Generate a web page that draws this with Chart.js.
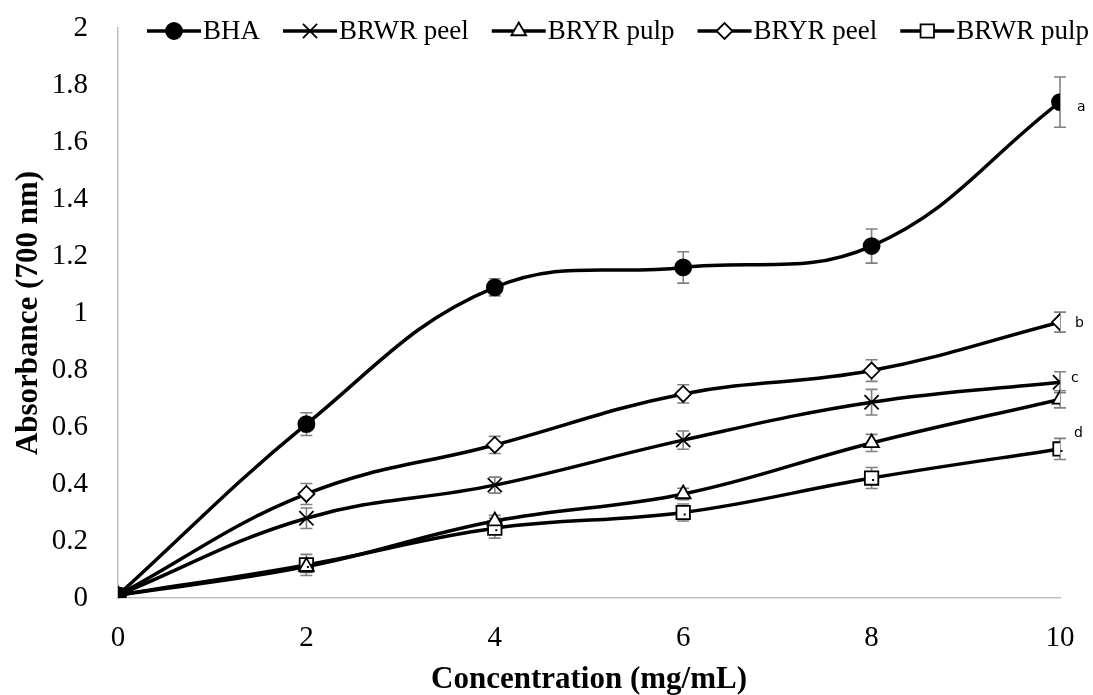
<!DOCTYPE html>
<html>
<head>
<meta charset="utf-8">
<script src="https://cdn.jsdelivr.net/npm/chart.js@4/dist/chart.umd.min.js"></script>
<style>
html,body{margin:0;padding:0;background:#fff}
#wrap{width:1093px;height:695px;position:relative}
</style>
</head>
<body>
<div id="wrap"><canvas id="c"></canvas></div>
<script>
// concentration (mg/mL)
var conc = [0, 2, 4, 6, 8, 10];
var seriesNames = ['BHA', 'BRWR peel', 'BRYR pulp', 'BRYR peel', 'BRWR pulp'];

var bha         = [0.01, 0.61, 1.09, 1.16, 1.235, 1.74];
var bhaErr      = [0, 0.04, 0.03, 0.055, 0.06, 0.088];
var brwrPeel    = [0.01, 0.28, 0.396, 0.554, 0.687, 0.757];
var brwrPeelErr = [0, 0.036, 0.028, 0.032, 0.045, 0.037];
var bryrPulp    = [0.01, 0.11, 0.27, 0.365, 0.544, 0.697];
var bryrPulpErr = [0, 0.02, 0.02, 0.02, 0.03, 0.03];
var bryrPeel    = [0.01, 0.365, 0.537, 0.716, 0.798, 0.968];
var bryrPeelErr = [0, 0.037, 0.03, 0.032, 0.038, 0.035];
var brwrPulp    = [0.01, 0.116, 0.245, 0.30, 0.421, 0.523];
var brwrPulpErr = [0, 0.037, 0.035, 0.03, 0.037, 0.037];

// significance letters at the last point
var sigLetters = ['a', 'c', '', 'b', 'd'];

var values = [bha, brwrPeel, bryrPulp, bryrPeel, brwrPulp];
var errors = [bhaErr, brwrPeelErr, bryrPulpErr, bryrPeelErr, brwrPulpErr];

var markers = [
  {style: 'circle',   radius: 8,   fill: '#000'},
  {style: 'crossRot', radius: 10,  fill: '#fff'},
  {style: 'triangle', radius: 8.5, fill: '#fff'},
  {style: 'rectRot',  radius: 8,   fill: '#fff'},
  {style: 'rect',     radius: 9.5, fill: '#fff'}
];
var letterOffset = [[17, 5], [11, -4], null, [15, 1], [14, -16]];

var serif = '"Liberation Serif", "Times New Roman", serif';

var datasets = seriesNames.map(function(name, i){
  return {
    label: name,
    data: conc.map(function(x, j){ return {x: x, y: values[i][j]}; }),
    borderColor: '#000',
    borderWidth: 3.5,
    tension: 0.4,
    pointStyle: markers[i].style,
    pointRadius: markers[i].radius,
    pointBackgroundColor: markers[i].fill,
    pointBorderColor: '#000',
    pointBorderWidth: 1.8
  };
});

var errorBars = {
  id: 'errorBars',
  beforeDatasetsDraw: function(chart){
    var ctx = chart.ctx, xs = chart.scales.x, ys = chart.scales.y;
    ctx.save();
    ctx.strokeStyle = '#808080';
    ctx.lineWidth = 1.6;
    errors.forEach(function(err, i){
      conc.forEach(function(x, j){
        if (!err[j]) return;
        var px = xs.getPixelForValue(x);
        var top = ys.getPixelForValue(values[i][j] + err[j]);
        var bot = ys.getPixelForValue(values[i][j] - err[j]);
        ctx.beginPath();
        ctx.moveTo(px, top); ctx.lineTo(px, bot);
        ctx.moveTo(px - 6, top); ctx.lineTo(px + 6, top);
        ctx.moveTo(px - 6, bot); ctx.lineTo(px + 6, bot);
        ctx.stroke();
      });
    });
    ctx.restore();
  },
  afterDatasetsDraw: function(chart){
    var ctx = chart.ctx, xs = chart.scales.x, ys = chart.scales.y;
    ctx.save();
    // tiny dot inside the square markers
    ctx.fillStyle = '#000';
    conc.forEach(function(x, j){
      ctx.fillRect(xs.getPixelForValue(x) + 0.5, ys.getPixelForValue(brwrPulp[j]) + 1, 2, 2);
    });
    // letters
    ctx.font = '14px "DejaVu Sans", sans-serif';
    ctx.textAlign = 'left';
    ctx.textBaseline = 'middle';
    var last = conc.length - 1;
    sigLetters.forEach(function(l, i){
      if (!l) return;
      var px = xs.getPixelForValue(conc[last]) + letterOffset[i][0];
      var py = ys.getPixelForValue(values[i][last]) + letterOffset[i][1];
      ctx.fillText(l, px, py);
    });
    ctx.restore();
  }
};

// legend drawn by hand so each key shows line + marker like the original
var lineLegend = {
  id: 'lineLegend',
  afterDraw: function(chart){
    var ctx = chart.ctx;
    var x = 147, y = 31, lineLen = 54;
    ctx.save();
    ctx.font = '27px ' + serif;
    ctx.textBaseline = 'middle';
    ctx.textAlign = 'left';
    chart.data.datasets.forEach(function(ds){
      ctx.strokeStyle = '#000';
      ctx.lineWidth = 3.5;
      ctx.beginPath();
      ctx.moveTo(x, y); ctx.lineTo(x + lineLen, y);
      ctx.stroke();
      ctx.fillStyle = ds.pointBackgroundColor;
      ctx.strokeStyle = '#000';
      ctx.lineWidth = ds.pointBorderWidth;
      Chart.helpers.drawPoint(ctx, {
        pointStyle: ds.pointStyle, radius: ds.pointRadius, rotation: 0,
        borderWidth: ds.pointBorderWidth
      }, x + lineLen / 2, y);
      ctx.fillStyle = '#000';
      ctx.fillText(ds.label, x + lineLen + 2, y + 1);
      x += lineLen + 2 + ctx.measureText(ds.label).width + 23;
    });
    ctx.restore();
  }
};

new Chart(document.getElementById('c'), {
  type: 'line',
  data: {datasets: datasets},
  options: {
    responsive: true,
    maintainAspectRatio: false,
    animation: false,
    layout: {padding: {top: 28, right: 33, left: 0, bottom: 0}},
    plugins: {legend: {display: false}, tooltip: {enabled: false}},
    scales: {
      x: {
        type: 'linear', min: 0, max: 10,
        grid: {display: false, drawTicks: false},
        border: {color: '#bfbfbf', width: 1.5},
        ticks: {stepSize: 2, color: '#000', padding: 23, font: {family: serif, size: 29}},
        title: {display: true, text: 'Concentration (mg/mL)', color: '#000',
          padding: {top: 0, bottom: -4}, font: {family: serif, size: 31, weight: 'bold'}},
        afterFit: function(s){ s.height = 97; s.paddingLeft = 0; s.paddingRight = 0; }
      },
      y: {
        min: 0, max: 2,
        grid: {display: false, drawTicks: false},
        border: {color: '#bfbfbf', width: 1.5},
        ticks: {stepSize: 0.2, color: '#000', padding: 30, font: {family: serif, size: 29},
          callback: function(v){ return String(+v.toFixed(1)); }},
        title: {display: true, text: 'Absorbance (700 nm)', color: '#000',
          padding: {top: 10, bottom: 0}, font: {family: serif, size: 31, weight: 'bold'}},
        afterFit: function(s){ s.width = 118; s.paddingTop = 0; s.paddingBottom = 0; }
      }
    }
  },
  plugins: [errorBars, lineLegend]
});
</script>
</body>
</html>
